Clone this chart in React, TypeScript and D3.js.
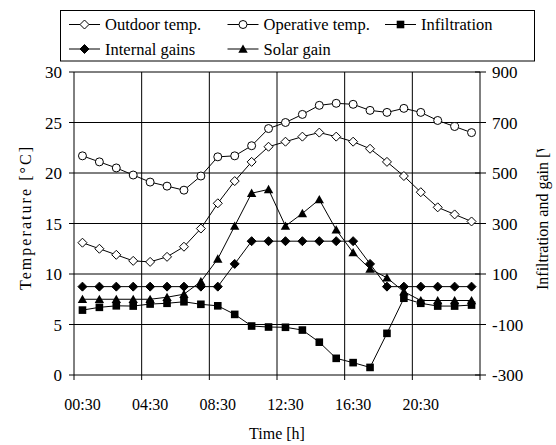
import React from "react";
import * as d3 from "d3";

const times = ["00:30","01:30","02:30","03:30","04:30","05:30","06:30","07:30","08:30","09:30","10:30","11:30","12:30","13:30","14:30","15:30","16:30","17:30","18:30","19:30","20:30","21:30","22:30","23:30"];
const outdoorTemp = [13.1,12.5,11.9,11.3,11.2,11.7,12.7,14.5,17.0,19.2,21.1,22.6,23.1,23.6,24.0,23.6,23.1,22.4,21.1,19.7,18.1,16.6,15.9,15.2];
const operativeTemp = [21.7,21.1,20.5,19.8,19.1,18.7,18.3,19.7,21.6,21.7,22.7,24.4,25.0,25.8,26.7,26.9,26.8,26.2,26.0,26.4,26.0,25.2,24.6,24.0];
const infiltration = [-43,-32,-26,-27,-19,-16,-10,-20,-26,-60,-106,-110,-111,-122,-170,-234,-251,-270,-135,4,-16,-27,-27,-23];
const internalGains = [50,50,50,50,50,50,50,50,50,140,230,230,230,230,230,230,230,140,50,50,50,50,50,50];
const solarGain = [0,0,0,0,0,8,20,70,160,290,420,435,290,340,395,275,185,120,85,30,-5,-5,-5,-5];
const leftTicks = [0,5,10,15,20,25,30];
const rightTicks = [-300,-100,100,300,500,700,900];
const xLabelEvery = 4;

const FONT = '"Liberation Serif", "Times New Roman", Times, serif';
const L = 74, R = 480, T = 72, B = 375;

type Shape = "diamondO" | "circleO" | "square" | "diamond" | "triangle";

function marker(shape: Shape, cx: number, cy: number, key: string) {
  switch (shape) {
    case "diamondO":
    case "diamond": {
      const h = 4.5;
      return <path key={key} d={`M${cx},${cy - h}L${cx + h},${cy}L${cx},${cy + h}L${cx - h},${cy}Z`} fill={shape === "diamond" ? "#000" : "#fff"} stroke="#000" strokeWidth={1} />;
    }
    case "circleO":
      return <circle key={key} cx={cx} cy={cy} r={4} fill="#fff" stroke="#000" strokeWidth={1} />;
    case "square":
      return <rect key={key} x={cx - 3.8} y={cy - 3.8} width={7.6} height={7.6} fill="#000" />;
    case "triangle":
      return <path key={key} d={`M${cx},${cy - 4.6}L${cx + 4.7},${cy + 3.8}L${cx - 4.7},${cy + 3.8}Z`} fill="#000" />;
  }
}

export default function App() {
  const x = d3.scaleBand<string>().domain(times).range([L, R]).paddingInner(0).paddingOuter(0);
  const bw = x.bandwidth();
  const cx = (t: string) => (x(t) as number) + bw / 2;
  const yL = d3.scaleLinear().domain([0, 30]).range([B, T]);
  const yR = d3.scaleLinear().domain([-300, 900]).range([B, T]);

  const series: { name: string; values: number[]; axis: "L" | "R"; shape: Shape }[] = [
    { name: "Outdoor temp.", values: outdoorTemp, axis: "L", shape: "diamondO" },
    { name: "Operative temp.", values: operativeTemp, axis: "L", shape: "circleO" },
    { name: "Infiltration", values: infiltration, axis: "R", shape: "square" },
    { name: "Internal gains", values: internalGains, axis: "R", shape: "diamond" },
    { name: "Solar gain", values: solarGain, axis: "R", shape: "triangle" },
  ];

  const legendPos = [
    { x: 69, y: 24.5 },
    { x: 227.5, y: 24.5 },
    { x: 385, y: 24.5 },
    { x: 69, y: 49 },
    { x: 227.5, y: 49 },
  ];

  const xTickIdx = times.map((_, i) => i).filter((i) => i % xLabelEvery === 0);

  return (
    <svg width={556} height={445} style={{ position: "absolute", left: 0, top: 0, background: "#fff", fontFamily: FONT }}>
      <defs>
        <clipPath id="rtclip">
          <rect x={500} y={149} width={56} height={300} />
        </clipPath>
      </defs>
      <rect x={0} y={0} width={556} height={445} fill="#fff" />
      {leftTicks.filter((v) => v > 0).map((v) => (
        <line key={"hg" + v} x1={L} x2={R} y1={yL(v)} y2={yL(v)} stroke="#000" strokeWidth={1} />
      ))}
      {xTickIdx.filter((i) => i > 0).map((i) => (
        <line key={"vg" + i} x1={x(times[i])} x2={x(times[i])} y1={T} y2={B + 5} stroke="#000" strokeWidth={1} />
      ))}
      <line x1={R} x2={R} y1={B} y2={B + 5} stroke="#000" />
      <line x1={L} x2={L} y1={T} y2={B + 5} stroke="#000" />
      <line x1={R} x2={R} y1={T} y2={B} stroke="#000" />
      <line x1={L} x2={R} y1={B} y2={B} stroke="#000" />
      {leftTicks.map((v) => (
        <g key={"lt" + v}>
          <line x1={L - 5} x2={L} y1={yL(v)} y2={yL(v)} stroke="#000" />
          <text x={62} y={yL(v) + 6} textAnchor="end" fontSize={17}>{v}</text>
        </g>
      ))}
      {rightTicks.map((v) => (
        <g key={"rt" + v}>
          <line x1={R - 5} x2={R + 6} y1={yR(v)} y2={yR(v)} stroke="#000" />
          <text x={492} y={yR(v) + 6} textAnchor="start" fontSize={17}>{v}</text>
        </g>
      ))}
      {xTickIdx.map((i) => (
        <text key={"xl" + i} x={cx(times[i])} y={410} textAnchor="middle" fontSize={16}>{times[i]}</text>
      ))}
      <text x={277} y={439} textAnchor="middle" fontSize={16}>Time [h]</text>
      <text transform="translate(31,290) rotate(-90)" textAnchor="start" fontSize={16} textLength={143} lengthAdjust="spacing">Temperature [°C]</text>
      <g clipPath="url(#rtclip)">
        <text transform="translate(548,290) rotate(-90)" textAnchor="start" fontSize={16}>Infiltration and gain [W]</text>
      </g>
      {series.map((s) => {
        const y = s.axis === "L" ? yL : yR;
        const line = d3.line<number>().x((_, i) => cx(times[i])).y((d) => y(d));
        return (
          <g key={s.name}>
            <path d={line(s.values) || ""} fill="none" stroke="#000" strokeWidth={1} />
            {s.values.map((v, i) => marker(s.shape, cx(times[i]), y(v), s.name + i))}
          </g>
        );
      })}
      <rect x={60.5} y={10.5} width={474} height={50.5} fill="#fff" stroke="#000" strokeWidth={1} />
      {series.map((s, k) => {
        const p = legendPos[k];
        return (
          <g key={"lg" + k}>
            <line x1={p.x} x2={p.x + 31} y1={p.y} y2={p.y} stroke="#000" />
            {marker(s.shape, p.x + 15.5, p.y, "lm" + k)}
            <text x={p.x + 36} y={p.y + 5.5} fontSize={16.5}>{s.name}</text>
          </g>
        );
      })}
    </svg>
  );
}
